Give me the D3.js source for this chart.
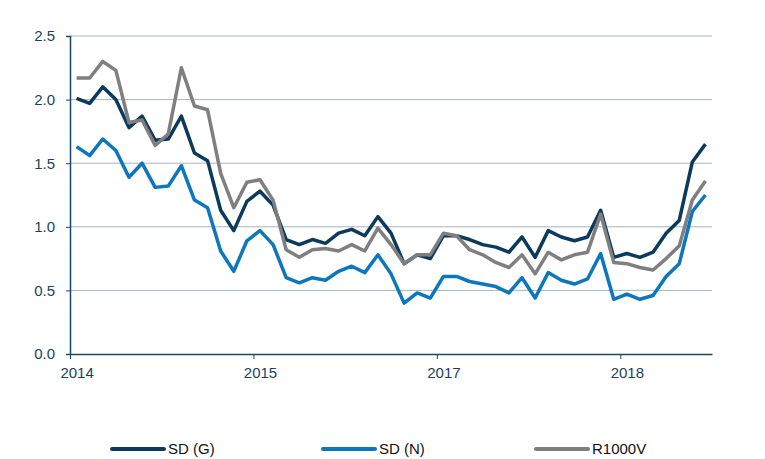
<!DOCTYPE html>
<html>
<head>
<meta charset="utf-8">
<script src="https://cdn.jsdelivr.net/npm/d3@7"></script>
<style>
  body { margin: 0; background: #fff; }
  svg { display: block; font-family: 'Liberation Sans', Arial, sans-serif; }
</style>
</head>
<body>
<svg id="chart" width="765" height="459"></svg>
<script>
// monthly values, 49 points
const sdG = [2.01,1.97,2.10,2.00,1.78,1.87,1.68,1.69,1.87,1.58,1.52,1.13,0.97,
  1.20,1.28,1.17,0.90,0.86,0.90,0.87,0.95,0.98,0.93,1.08,0.95,
  0.71,0.78,0.75,0.93,0.93,0.90,0.86,0.84,0.80,0.92,0.76,0.97,
  0.92,0.89,0.92,1.13,0.76,0.79,0.76,0.80,0.95,1.05,1.51,1.65]
const sdN = [1.63,1.56,1.69,1.60,1.39,1.50,1.31,1.32,1.48,1.21,1.15,0.81,0.65,
  0.89,0.97,0.86,0.60,0.56,0.60,0.58,0.65,0.69,0.64,0.78,0.63,
  0.40,0.48,0.44,0.61,0.61,0.57,0.55,0.53,0.48,0.60,0.44,0.64,
  0.58,0.55,0.59,0.79,0.43,0.47,0.43,0.46,0.61,0.71,1.12,1.25]
const r1000v = [2.17,2.17,2.30,2.23,1.82,1.84,1.64,1.73,2.25,1.95,1.92,1.42,1.15,
  1.35,1.37,1.21,0.82,0.76,0.82,0.83,0.81,0.86,0.81,0.99,0.86,
  0.71,0.78,0.78,0.95,0.93,0.82,0.78,0.72,0.68,0.78,0.63,0.80,
  0.74,0.78,0.80,1.10,0.72,0.71,0.68,0.66,0.75,0.85,1.21,1.36]

const seriesNames = ['SD (G)', 'SD (N)', 'R1000V']
const xLabels = ['2014', '2015', '2017', '2018']
const xLabelIdx = [0, 14, 28, 42]
const yTicks = [0, 0.5, 1.0, 1.5, 2.0, 2.5]

const colors = ['#0b3a5c', '#0d77bd', '#7f7f7f']
const axisColor = '#1d4666'
const textColor = '#1d3f60'

const plotL = 70, plotR = 712, plotT = 36, plotB = 354
const n = sdG.length

const svg = d3.select('#chart')

let x = d3.scaleLinear().domain([0, n]).range([plotL, plotR])
let y = d3.scaleLinear().domain([0, 2.5]).range([plotB, plotT])
const half = (x(1) - x(0)) / 2

// gridlines
svg.append('g')
  .selectAll('line')
  .data(yTicks.filter(d => d > 0))
  .join('line')
    .attr('x1', plotL)
    .attr('x2', plotR)
    .attr('y1', d => y(d))
    .attr('y2', d => y(d))
    .attr('stroke', '#a7b6c8')
    .attr('stroke-width', 1)

// y axis
svg.append('g')
  .attr('transform', `translate(${plotL},0)`)
  .call(d3.axisLeft(y).tickValues(yTicks).tickFormat(d3.format('.1f')).tickSize(4).tickPadding(11))
  .call(g => g.select('.domain').attr('stroke', axisColor).attr('stroke-width', 1.5))
  .call(g => g.selectAll('.tick line').attr('stroke', axisColor))
  .call(g => g.selectAll('text').attr('fill', textColor).attr('font-size', 15))
  .attr('font-family', null)

// x axis
svg.append('g')
  .attr('transform', `translate(0,${plotB})`)
  .call(d3.axisBottom(x).tickValues(xLabelIdx).tickFormat((d, i) => xLabels[i]).tickSize(5).tickSizeOuter(0).tickPadding(8))
  .call(g => g.select('.domain').attr('stroke', axisColor).attr('stroke-width', 1.5))
  .call(g => g.selectAll('.tick line').attr('stroke', axisColor))
  .call(g => g.selectAll('text').attr('x', half).attr('fill', textColor).attr('font-size', 15))
  .attr('font-family', null)

// lines
const line = d3.line()
  .x((d, i) => x(i) + half)
  .y(d => y(d))

const allSeries = [sdG, sdN, r1000v]
svg.append('g')
  .selectAll('path')
  .data(allSeries)
  .join('path')
    .attr('d', line)
    .attr('fill', 'none')
    .attr('stroke', (d, i) => colors[i])
    .attr('stroke-width', 3.5)
    .attr('stroke-linejoin', 'round')

// legend
const legendX = [112, 323, 536]
const leg = svg.append('g')
  .selectAll('g')
  .data(seriesNames)
  .join('g')
    .attr('transform', (d, i) => `translate(${legendX[i]},449)`)
leg.append('line')
  .attr('x1', 0).attr('x2', 52)
  .attr('stroke', (d, i) => colors[i])
  .attr('stroke-width', 4)
  .attr('stroke-linecap', 'round')
leg.append('text')
  .attr('x', 56)
  .attr('dy', '0.35em')
  .attr('fill', '#111')
  .attr('font-size', 15)
  .text(d => d)
</script>
</body>
</html>
